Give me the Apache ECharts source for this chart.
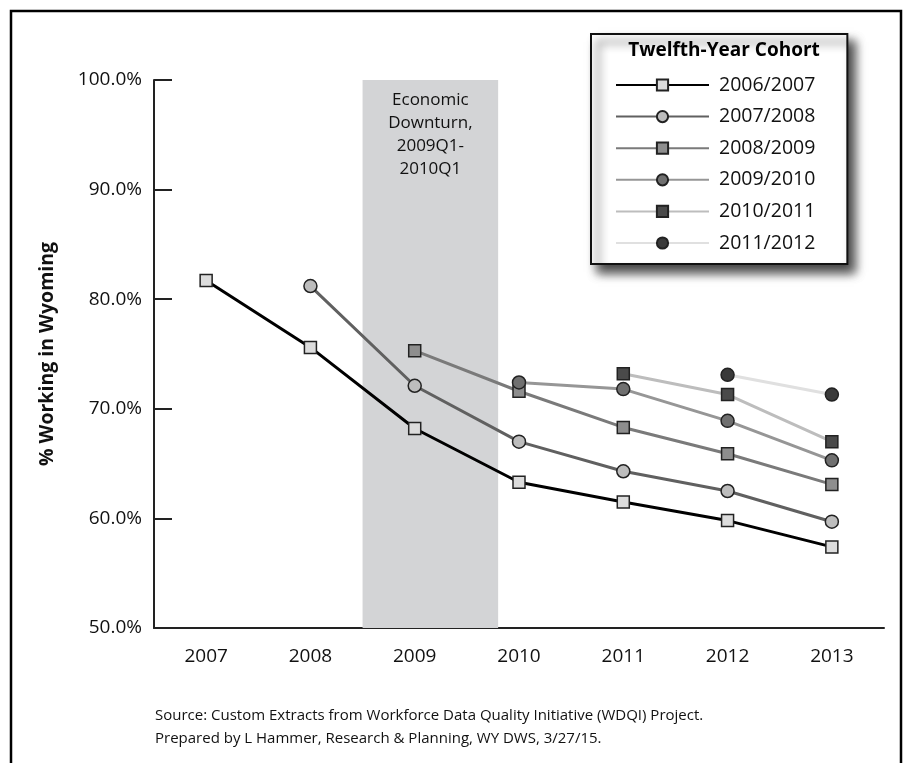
<!DOCTYPE html>
<html>
<head>
<meta charset="utf-8">
<script src="https://cdn.jsdelivr.net/npm/echarts@6/dist/echarts.min.js"></script>
<style>
html,body{margin:0;padding:0;background:#fff;}
#c{width:910px;height:763px;}
</style>
</head>
<body>
<div id="c"></div>
<script>
var years = ['2007','2008','2009','2010','2011','2012','2013'];
var cohortNames = ['2006/2007','2007/2008','2008/2009','2009/2010','2010/2011','2011/2012'];
var c2006 = [81.7, 75.6, 68.2, 63.3, 61.5, 59.8, 57.4];
var c2007 = [null, 81.2, 72.1, 67.0, 64.3, 62.5, 59.7];
var c2008 = [null, null, 75.3, 71.6, 68.3, 65.9, 63.1];
var c2009 = [null, null, null, 72.4, 71.8, 68.9, 65.3];
var c2010 = [null, null, null, null, 73.2, 71.3, 67.0];
var c2011 = [null, null, null, null, null, 73.1, 71.3];
var yTicks = [50, 60, 70, 80, 90, 100];
var downturn = [2, 3.3];
var downturnLabel = 'Economic\nDownturn,\n2009Q1-\n2010Q1';

var FONT = '"Open Sans"';
var lineColors = ['#000000', '#606060', '#7a7a7a', '#969696', '#bdbdbd', '#e0e0e0'];
var markerFills = ['#dcdcdc', '#bdbdbd', '#8e8e8e', '#707070', '#4a4a4a', '#3a3a3a'];
var symbols = ['rect', 'circle', 'rect', 'circle', 'rect', 'circle'];
var allData = [c2006, c2007, c2008, c2009, c2010, c2011];

var series = allData.map(function (d, i) {
  return {
    name: cohortNames[i],
    type: 'line',
    data: d,
    symbol: symbols[i],
    symbolSize: symbols[i] === 'rect' ? 12 : 13,
    showAllSymbol: true,
    z: 3 + i,
    lineStyle: { color: lineColors[i], width: 3 },
    itemStyle: { color: markerFills[i], borderColor: '#222', borderWidth: 1.5 },
    emphasis: { disabled: true }
  };
});

series.unshift({
  type: 'custom',
  xAxisIndex: 1,
  yAxisIndex: 0,
  z: 1,
  silent: true,
  data: [downturn],
  renderItem: function (params, api) {
    var p0 = api.coord([api.value(0), 100]);
    var p1 = api.coord([api.value(1), 50]);
    return {
      type: 'group',
      children: [
        { type: 'rect', shape: { x: p0[0], y: p0[1], width: p1[0] - p0[0], height: p1[1] - p0[1] },
          style: { fill: '#d3d4d6' } },
        { type: 'text', x: (p0[0] + p1[0]) / 2, y: p0[1] + 9,
          style: { text: downturnLabel, fill: '#111', font: '17px ' + FONT, align: 'center', verticalAlign: 'top', lineHeight: 23 } }
      ]
    };
  }
});

var chart = echarts.init(document.getElementById('c'));
chart.setOption({
  animation: false,
  backgroundColor: '#fff',
  grid: { left: 154, right: 26, top: 80, bottom: 135 },
  xAxis: [{
    type: 'category',
    data: years,
    boundaryGap: true,
    axisLine: { lineStyle: { color: '#222', width: 2 } },
    axisTick: { inside: true, length: 16, lineStyle: { color: '#222', width: 2 } },
    axisLabel: { color: '#111', fontSize: 19, fontFamily: FONT, margin: 19 }
  }, {
    type: 'value', min: 0, max: 7, show: false
  }],
  yAxis: {
    type: 'value',
    min: yTicks[0], max: yTicks[yTicks.length - 1], interval: 10,
    name: '% Working in Wyoming',
    nameLocation: 'middle',
    nameGap: 97,
    nameTextStyle: { color: '#111', fontSize: 19.5, fontWeight: 'bold', fontFamily: FONT },
    axisLine: { show: true, lineStyle: { color: '#222', width: 2 } },
    axisTick: { show: true, inside: true, length: 18, lineStyle: { color: '#222', width: 2 } },
    splitLine: { show: false },
    axisLabel: { color: '#111', fontSize: 19, fontFamily: FONT, margin: 12,
      formatter: function (v) { return v.toFixed(1) + '%'; } }
  },
  legend: {
    orient: 'vertical',
    left: 591, top: 34,
    padding: [41, 32, 11, 24],
    itemWidth: 93, itemHeight: 14, itemGap: 11.6,
    backgroundColor: '#fff',
    borderColor: '#111', borderWidth: 2,
    shadowColor: 'rgba(0,0,0,0.75)', shadowBlur: 10, shadowOffsetX: 7, shadowOffsetY: 8,
    textStyle: { color: '#111', fontSize: 19.5, fontFamily: FONT, lineHeight: 18, padding: [0, 0, 0, 5] },
    data: cohortNames,
    selectedMode: false
  },
  graphic: [
    { type: 'rect', z: 100, silent: true, shape: { x: 11, y: 11, width: 890, height: 800 },
      style: { fill: 'none', stroke: '#000', lineWidth: 2.5 } },
    { type: 'text', z: 100, x: 724, y: 41,
      style: { text: 'Twelfth-Year Cohort', font: 'bold 19px ' + FONT, fill: '#000', align: 'center', verticalAlign: 'top' } },
    { type: 'text', z: 100, x: 155, y: 708,
      style: { text: 'Source: Custom Extracts from Workforce Data Quality Initiative (WDQI) Project.', font: '15px ' + FONT, fill: '#111' } },
    { type: 'text', z: 100, x: 155, y: 731,
      style: { text: 'Prepared by L Hammer, Research & Planning, WY DWS, 3/27/15.', font: '15px ' + FONT, fill: '#111' } }
  ],
  series: series
});
</script>
</body>
</html>
